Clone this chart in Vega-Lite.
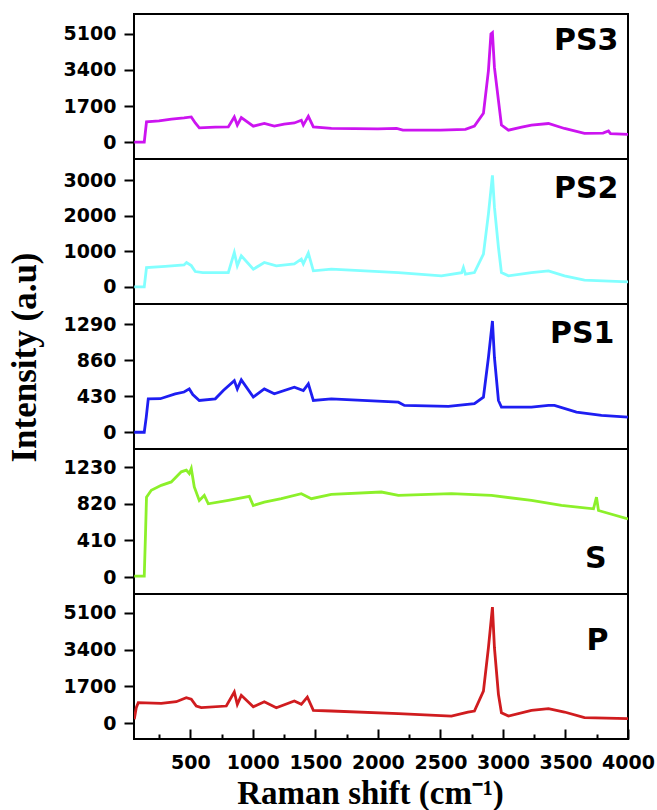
{
  "$schema": "https://vega.github.io/schema/vega-lite/v6.json",
  "background": "white",
  "padding": {"left": 6, "top": 13, "right": 5, "bottom": 0},
  "spacing": 0,
  "bounds": "flush",
  "config": {
    "view": {"stroke": "black", "strokeWidth": 2},
    "concat": {"spacing": 0},
    "axis": {
      "labelFont": "DejaVu Sans", "labelFontWeight": "bold", "labelFontSize": 19, "labelColor": "black",
      "tickColor": "black", "tickWidth": 2, "domainColor": "black", "domainWidth": 2, "grid": false,
      "titleFont": "Liberation Serif", "titleFontWeight": "bold", "titleColor": "black"
    }
  },
  "datasets": {
    "spectra": [
      {"sample":"PS3","shift":52,"intensity":0},{"sample":"PS3","shift":132,"intensity":0},{"sample":"PS3","shift":150,"intensity":950},{"sample":"PS3","shift":250,"intensity":1000},{"sample":"PS3","shift":350,"intensity":1080},{"sample":"PS3","shift":450,"intensity":1140},{"sample":"PS3","shift":508,"intensity":1185},{"sample":"PS3","shift":540,"intensity":900},{"sample":"PS3","shift":572,"intensity":670},{"sample":"PS3","shift":700,"intensity":700},{"sample":"PS3","shift":804,"intensity":715},{"sample":"PS3","shift":852,"intensity":1185},{"sample":"PS3","shift":876,"intensity":800},{"sample":"PS3","shift":908,"intensity":1155},{"sample":"PS3","shift":1004,"intensity":750},{"sample":"PS3","shift":1092,"intensity":875},{"sample":"PS3","shift":1172,"intensity":750},{"sample":"PS3","shift":1250,"intensity":850},{"sample":"PS3","shift":1332,"intensity":900},{"sample":"PS3","shift":1388,"intensity":1030},{"sample":"PS3","shift":1404,"intensity":800},{"sample":"PS3","shift":1444,"intensity":1215},{"sample":"PS3","shift":1484,"intensity":715},{"sample":"PS3","shift":1628,"intensity":640},{"sample":"PS3","shift":2000,"intensity":620},{"sample":"PS3","shift":2150,"intensity":640},{"sample":"PS3","shift":2200,"intensity":560},{"sample":"PS3","shift":2500,"intensity":560},{"sample":"PS3","shift":2700,"intensity":600},{"sample":"PS3","shift":2772,"intensity":750},{"sample":"PS3","shift":2844,"intensity":1355},{"sample":"PS3","shift":2884,"intensity":3370},{"sample":"PS3","shift":2904,"intensity":5100},{"sample":"PS3","shift":2916,"intensity":5160},{"sample":"PS3","shift":2932,"intensity":3520},{"sample":"PS3","shift":2964,"intensity":1965},{"sample":"PS3","shift":2988,"intensity":800},{"sample":"PS3","shift":3044,"intensity":560},{"sample":"PS3","shift":3150,"intensity":700},{"sample":"PS3","shift":3228,"intensity":800},{"sample":"PS3","shift":3364,"intensity":875},{"sample":"PS3","shift":3492,"intensity":640},{"sample":"PS3","shift":3652,"intensity":405},{"sample":"PS3","shift":3800,"intensity":420},{"sample":"PS3","shift":3844,"intensity":520},{"sample":"PS3","shift":3860,"intensity":400},{"sample":"PS3","shift":4000,"intensity":360},
      {"sample":"PS2","shift":52,"intensity":0},{"sample":"PS2","shift":132,"intensity":0},{"sample":"PS2","shift":150,"intensity":546},{"sample":"PS2","shift":300,"intensity":580},{"sample":"PS2","shift":450,"intensity":620},{"sample":"PS2","shift":470,"intensity":688},{"sample":"PS2","shift":508,"intensity":600},{"sample":"PS2","shift":540,"intensity":433},{"sample":"PS2","shift":600,"intensity":405},{"sample":"PS2","shift":804,"intensity":405},{"sample":"PS2","shift":852,"intensity":971},{"sample":"PS2","shift":876,"intensity":594},{"sample":"PS2","shift":908,"intensity":877},{"sample":"PS2","shift":1004,"intensity":500},{"sample":"PS2","shift":1092,"intensity":688},{"sample":"PS2","shift":1188,"intensity":594},{"sample":"PS2","shift":1332,"intensity":650},{"sample":"PS2","shift":1388,"intensity":783},{"sample":"PS2","shift":1404,"intensity":650},{"sample":"PS2","shift":1444,"intensity":954},{"sample":"PS2","shift":1484,"intensity":453},{"sample":"PS2","shift":1628,"intensity":500},{"sample":"PS2","shift":2164,"intensity":405},{"sample":"PS2","shift":2508,"intensity":311},{"sample":"PS2","shift":2670,"intensity":400},{"sample":"PS2","shift":2684,"intensity":546},{"sample":"PS2","shift":2700,"intensity":360},{"sample":"PS2","shift":2772,"intensity":405},{"sample":"PS2","shift":2844,"intensity":925},{"sample":"PS2","shift":2884,"intensity":2057},{"sample":"PS2","shift":2916,"intensity":3141},{"sample":"PS2","shift":2932,"intensity":2244},{"sample":"PS2","shift":2964,"intensity":1112},{"sample":"PS2","shift":2988,"intensity":405},{"sample":"PS2","shift":3044,"intensity":311},{"sample":"PS2","shift":3228,"intensity":405},{"sample":"PS2","shift":3364,"intensity":453},{"sample":"PS2","shift":3492,"intensity":311},{"sample":"PS2","shift":3652,"intensity":190},{"sample":"PS2","shift":4000,"intensity":141},
      {"sample":"PS1","shift":52,"intensity":0},{"sample":"PS1","shift":132,"intensity":0},{"sample":"PS1","shift":148,"intensity":181},{"sample":"PS1","shift":164,"intensity":399},{"sample":"PS1","shift":260,"intensity":400},{"sample":"PS1","shift":380,"intensity":458},{"sample":"PS1","shift":450,"intensity":480},{"sample":"PS1","shift":492,"intensity":517},{"sample":"PS1","shift":520,"intensity":450},{"sample":"PS1","shift":572,"intensity":379},{"sample":"PS1","shift":700,"intensity":399},{"sample":"PS1","shift":764,"intensity":498},{"sample":"PS1","shift":852,"intensity":616},{"sample":"PS1","shift":876,"intensity":517},{"sample":"PS1","shift":908,"intensity":624},{"sample":"PS1","shift":1004,"intensity":419},{"sample":"PS1","shift":1092,"intensity":517},{"sample":"PS1","shift":1172,"intensity":458},{"sample":"PS1","shift":1332,"intensity":537},{"sample":"PS1","shift":1404,"intensity":498},{"sample":"PS1","shift":1444,"intensity":577},{"sample":"PS1","shift":1484,"intensity":379},{"sample":"PS1","shift":1628,"intensity":399},{"sample":"PS1","shift":2164,"intensity":359},{"sample":"PS1","shift":2212,"intensity":320},{"sample":"PS1","shift":2564,"intensity":308},{"sample":"PS1","shift":2772,"intensity":340},{"sample":"PS1","shift":2844,"intensity":419},{"sample":"PS1","shift":2884,"intensity":892},{"sample":"PS1","shift":2916,"intensity":1327},{"sample":"PS1","shift":2932,"intensity":892},{"sample":"PS1","shift":2964,"intensity":379},{"sample":"PS1","shift":2988,"intensity":300},{"sample":"PS1","shift":3228,"intensity":300},{"sample":"PS1","shift":3364,"intensity":320},{"sample":"PS1","shift":3412,"intensity":320},{"sample":"PS1","shift":3588,"intensity":241},{"sample":"PS1","shift":3788,"intensity":201},{"sample":"PS1","shift":4000,"intensity":181},
      {"sample":"S","shift":52,"intensity":11},{"sample":"S","shift":132,"intensity":11},{"sample":"S","shift":142,"intensity":482},{"sample":"S","shift":150,"intensity":896},{"sample":"S","shift":188,"intensity":972},{"sample":"S","shift":268,"intensity":1028},{"sample":"S","shift":348,"intensity":1066},{"sample":"S","shift":428,"intensity":1179},{"sample":"S","shift":468,"intensity":1198},{"sample":"S","shift":492,"intensity":1160},{"sample":"S","shift":508,"intensity":1217},{"sample":"S","shift":532,"intensity":1009},{"sample":"S","shift":572,"intensity":859},{"sample":"S","shift":612,"intensity":915},{"sample":"S","shift":644,"intensity":821},{"sample":"S","shift":804,"intensity":859},{"sample":"S","shift":972,"intensity":904},{"sample":"S","shift":1004,"intensity":802},{"sample":"S","shift":1092,"intensity":840},{"sample":"S","shift":1228,"intensity":878},{"sample":"S","shift":1388,"intensity":934},{"sample":"S","shift":1468,"intensity":878},{"sample":"S","shift":1628,"intensity":927},{"sample":"S","shift":2028,"intensity":953},{"sample":"S","shift":2164,"intensity":915},{"sample":"S","shift":2588,"intensity":934},{"sample":"S","shift":2908,"intensity":915},{"sample":"S","shift":3228,"intensity":859},{"sample":"S","shift":3468,"intensity":802},{"sample":"S","shift":3724,"intensity":765},{"sample":"S","shift":3748,"intensity":896},{"sample":"S","shift":3764,"intensity":746},{"sample":"S","shift":4000,"intensity":652},
      {"sample":"P","shift":52,"intensity":170},{"sample":"P","shift":68,"intensity":710},{"sample":"P","shift":84,"intensity":941},{"sample":"P","shift":268,"intensity":910},{"sample":"P","shift":388,"intensity":988},{"sample":"P","shift":468,"intensity":1173},{"sample":"P","shift":508,"intensity":1100},{"sample":"P","shift":548,"intensity":787},{"sample":"P","shift":588,"intensity":710},{"sample":"P","shift":788,"intensity":787},{"sample":"P","shift":852,"intensity":1435},{"sample":"P","shift":876,"intensity":865},{"sample":"P","shift":908,"intensity":1281},{"sample":"P","shift":1004,"intensity":750},{"sample":"P","shift":1092,"intensity":988},{"sample":"P","shift":1188,"intensity":710},{"sample":"P","shift":1332,"intensity":1019},{"sample":"P","shift":1388,"intensity":865},{"sample":"P","shift":1436,"intensity":1204},{"sample":"P","shift":1484,"intensity":587},{"sample":"P","shift":1628,"intensity":556},{"sample":"P","shift":2164,"intensity":432},{"sample":"P","shift":2588,"intensity":324},{"sample":"P","shift":2720,"intensity":500},{"sample":"P","shift":2772,"intensity":556},{"sample":"P","shift":2844,"intensity":1481},{"sample":"P","shift":2884,"intensity":3488},{"sample":"P","shift":2916,"intensity":5371},{"sample":"P","shift":2932,"intensity":3488},{"sample":"P","shift":2964,"intensity":1327},{"sample":"P","shift":2988,"intensity":479},{"sample":"P","shift":3044,"intensity":324},{"sample":"P","shift":3228,"intensity":587},{"sample":"P","shift":3364,"intensity":664},{"sample":"P","shift":3492,"intensity":510},{"sample":"P","shift":3652,"intensity":247},{"sample":"P","shift":4000,"intensity":200}
    ]
  },
  "vconcat": [
    {
      "width": 494, "height": 145,
      "layer": [
        {
          "data": {"name": "spectra"},
          "transform": [{"filter": "datum.sample === 'PS3'"}],
          "mark": {"type": "line", "color": "#CC14F0", "strokeWidth": 2.8, "clip": true},
          "encoding": {
            "x": {"field": "shift", "type": "quantitative", "scale": {"domain": [50, 4000], "nice": false, "zero": false}, "axis": null},
            "y": {"field": "intensity", "type": "quantitative", "scale": {"domain": [-800, 6040], "nice": false, "zero": false},
                  "axis": {"values": [0, 1700, 3400, 5100], "format": "d", "title": null, "tickSize": 10, "labelPadding": 8, "labelFontSize": 19, "domain": false}}
          }
        },
        {
          "data": {"values": [{"label": "PS3"}]},
          "mark": {"type": "text", "align": "right", "baseline": "middle", "font": "DejaVu Sans", "fontWeight": "bold", "fontSize": 30, "color": "black"},
          "encoding": {"text": {"field": "label"}, "x": {"datum": 3924}, "y": {"datum": 4774}}
        }
      ]
    },
    {
      "width": 494, "height": 145,
      "layer": [
        {
          "data": {"name": "spectra"},
          "transform": [{"filter": "datum.sample === 'PS2'"}],
          "mark": {"type": "line", "color": "#82FFFF", "strokeWidth": 2.8, "clip": true},
          "encoding": {
            "x": {"field": "shift", "type": "quantitative", "scale": {"domain": [50, 4000], "nice": false, "zero": false}, "axis": null},
            "y": {"field": "intensity", "type": "quantitative", "scale": {"domain": [-480, 3600], "nice": false, "zero": false},
                  "axis": {"values": [0, 1000, 2000, 3000], "format": "d", "title": null, "tickSize": 10, "labelPadding": 8, "labelFontSize": 19, "domain": false}}
          }
        },
        {
          "data": {"values": [{"label": "PS2"}]},
          "mark": {"type": "text", "align": "right", "baseline": "middle", "font": "DejaVu Sans", "fontWeight": "bold", "fontSize": 30, "color": "black"},
          "encoding": {"text": {"field": "label"}, "x": {"datum": 3924}, "y": {"datum": 2745}}
        }
      ]
    },
    {
      "width": 494, "height": 145,
      "layer": [
        {
          "data": {"name": "spectra"},
          "transform": [{"filter": "datum.sample === 'PS1'"}],
          "mark": {"type": "line", "color": "#1E1EF2", "strokeWidth": 2.8, "clip": true},
          "encoding": {
            "x": {"field": "shift", "type": "quantitative", "scale": {"domain": [50, 4000], "nice": false, "zero": false}, "axis": null},
            "y": {"field": "intensity", "type": "quantitative", "scale": {"domain": [-200, 1530], "nice": false, "zero": false},
                  "axis": {"values": [0, 430, 860, 1290], "format": "d", "title": "Intensity (a.u)", "titleFontSize": 35, "titleY": 53, "titlePadding": 21, "tickSize": 10, "labelPadding": 8, "labelFontSize": 19, "domain": false}}
          }
        },
        {
          "data": {"values": [{"label": "PS1"}]},
          "mark": {"type": "text", "align": "right", "baseline": "middle", "font": "DejaVu Sans", "fontWeight": "bold", "fontSize": 30, "color": "black"},
          "encoding": {"text": {"field": "label"}, "x": {"datum": 3892}, "y": {"datum": 1173}}
        }
      ]
    },
    {
      "width": 494, "height": 145,
      "layer": [
        {
          "data": {"name": "spectra"},
          "transform": [{"filter": "datum.sample === 'S'"}],
          "mark": {"type": "line", "color": "#8CF02A", "strokeWidth": 2.8, "clip": true},
          "encoding": {
            "x": {"field": "shift", "type": "quantitative", "scale": {"domain": [50, 4000], "nice": false, "zero": false}, "axis": null},
            "y": {"field": "intensity", "type": "quantitative", "scale": {"domain": [-190, 1435], "nice": false, "zero": false},
                  "axis": {"values": [0, 410, 820, 1230], "format": "d", "title": null, "tickSize": 10, "labelPadding": 8, "labelFontSize": 19, "domain": false}}
          }
        },
        {
          "data": {"values": [{"label": "S"}]},
          "mark": {"type": "text", "align": "right", "baseline": "middle", "font": "DejaVu Sans", "fontWeight": "bold", "fontSize": 30, "color": "black"},
          "encoding": {"text": {"field": "label"}, "x": {"datum": 3828}, "y": {"datum": 203}}
        }
      ]
    },
    {
      "width": 494, "height": 145,
      "resolve": {"axis": {"x": "independent"}},
      "layer": [
        {
          "data": {"name": "spectra"},
          "transform": [{"filter": "datum.sample === 'P'"}],
          "mark": {"type": "line", "color": "#D01C1F", "strokeWidth": 2.8, "clip": true},
          "encoding": {
            "x": {"field": "shift", "type": "quantitative", "scale": {"domain": [50, 4000], "nice": false, "zero": false},
                  "axis": {"orient": "bottom", "values": [500, 1000, 1500, 2000, 2500, 3000, 3500, 4000], "format": "d", "tickSize": -10, "labelPadding": 24, "labelFontSize": 19, "labelOverlap": false, "labelFlush": false, "domain": false,
                           "title": "Raman shift (cm⁻¹)", "titleFontSize": 33, "titlePadding": 5, "titleX": 236}},
            "y": {"field": "intensity", "type": "quantitative", "scale": {"domain": [-740, 5975], "nice": false, "zero": false},
                  "axis": {"values": [0, 1700, 3400, 5100], "format": "d", "title": null, "tickSize": 10, "labelPadding": 8, "labelFontSize": 19, "domain": false}}
          }
        },
        {
          "data": {"values": [{"label": "P"}]},
          "mark": {"type": "text", "align": "right", "baseline": "middle", "font": "DejaVu Sans", "fontWeight": "bold", "fontSize": 30, "color": "black"},
          "encoding": {"text": {"field": "label"},
                       "x": {"datum": 3844, "axis": {"orient": "bottom", "values": [250, 750, 1250, 1750, 2250, 2750, 3250, 3750], "labels": false, "tickSize": -5, "domain": false, "title": null}},
                       "y": {"datum": 3797}}
        }
      ]
    }
  ]
}
